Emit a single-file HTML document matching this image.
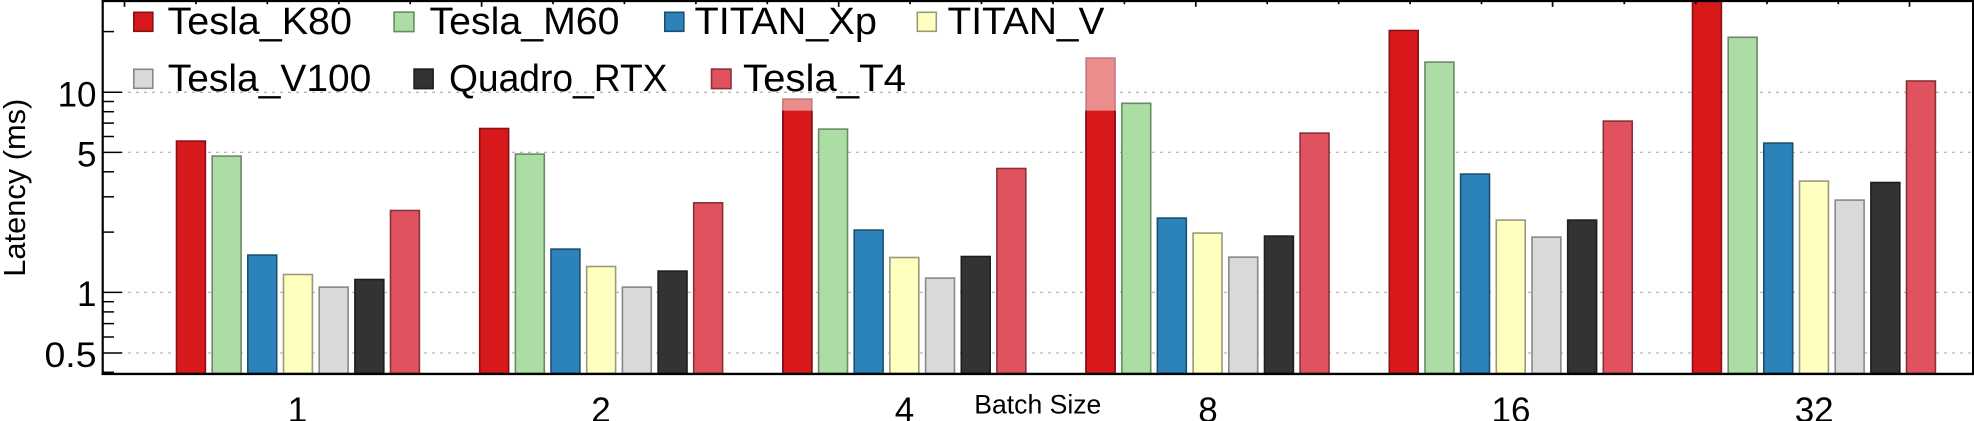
<!DOCTYPE html>
<html><head><meta charset="utf-8">
<style>
html,body{margin:0;padding:0;background:#fff;}
svg{display:block;}
text{font-family:"Liberation Sans",Arial,sans-serif;fill:#000;}
</style></head>
<body>
<svg width="1974" height="421" viewBox="0 0 1974 421" xmlns="http://www.w3.org/2000/svg">
<rect x="0" y="0" width="1974" height="421" fill="#fff"/>
<defs><clipPath id="pa"><rect x="103" y="1.5" width="1870" height="372"/></clipPath></defs>

<!-- gridlines -->
<g stroke="#b8b8b8" stroke-width="1.3" stroke-dasharray="3 5">
<line x1="104" y1="92.3" x2="1972" y2="92.3"/>
<line x1="104" y1="152.4" x2="1972" y2="152.4"/>
<line x1="104" y1="292.4" x2="1972" y2="292.4"/>
<line x1="104" y1="353" x2="1972" y2="353"/>
</g>

<g clip-path="url(#pa)" stroke-width="1.6">
<!-- Tesla_K80 -->
<g fill="#d7191c" stroke="#8a1014">
<rect x="176.5" y="141.1" width="28.9" height="232.4"/>
<rect x="479.7" y="128.5" width="28.9" height="245"/>
<rect x="1389.3" y="30.5" width="28.9" height="343"/>
<rect x="1692.5" y="-5" width="28.9" height="378.5"/>
</g>
<!-- K80 with translucent extension -->
<g fill="#eb8c8d" stroke="#c27b7d">
<rect x="782.9" y="99.1" width="28.9" height="274.4"/>
<rect x="1086.1" y="58.1" width="28.9" height="315.4"/>
</g>
<g fill="#d7191c" stroke="none">
<rect x="782.1" y="110.7" width="30.5" height="263"/>
<rect x="1085.3" y="110.7" width="30.5" height="263"/>
</g>
<g stroke="#7a0e12" stroke-width="1.6">
<line x1="782.9" y1="110.7" x2="782.9" y2="373.5"/>
<line x1="811.8" y1="110.7" x2="811.8" y2="373.5"/>
<line x1="1086.1" y1="110.7" x2="1086.1" y2="373.5"/>
<line x1="1115" y1="110.7" x2="1115" y2="373.5"/>
</g>
<!-- Tesla_M60 -->
<g fill="#abdda4" stroke="#6b8a66">
<rect x="212.2" y="156.1" width="28.9" height="217.4"/>
<rect x="515.4" y="154.1" width="28.9" height="219.4"/>
<rect x="818.6" y="129.1" width="28.9" height="244.4"/>
<rect x="1121.8" y="103.3" width="28.9" height="270.2"/>
<rect x="1425.0" y="62.1" width="28.9" height="311.4"/>
<rect x="1728.2" y="37.3" width="28.9" height="336.2"/>
</g>
<!-- TITAN_Xp -->
<g fill="#2b83ba" stroke="#1b4f70">
<rect x="247.8" y="255.1" width="28.9" height="118.4"/>
<rect x="551.0" y="249.1" width="28.9" height="124.4"/>
<rect x="854.2" y="230.1" width="28.9" height="143.4"/>
<rect x="1157.4" y="218.1" width="28.9" height="155.4"/>
<rect x="1460.6" y="174.1" width="28.9" height="199.4"/>
<rect x="1763.8" y="143.1" width="28.9" height="230.4"/>
</g>
<!-- TITAN_V -->
<g fill="#ffffbf" stroke="#9a9a7a">
<rect x="283.5" y="274.5" width="28.9" height="99"/>
<rect x="586.7" y="266.5" width="28.9" height="107"/>
<rect x="889.9" y="257.5" width="28.9" height="116"/>
<rect x="1193.1" y="233.1" width="28.9" height="140.4"/>
<rect x="1496.3" y="220.1" width="28.9" height="153.4"/>
<rect x="1799.5" y="181.1" width="28.9" height="192.4"/>
</g>
<!-- Tesla_V100 -->
<g fill="#d9d9d9" stroke="#888888">
<rect x="319.2" y="287.1" width="28.9" height="86.4"/>
<rect x="622.4" y="287.1" width="28.9" height="86.4"/>
<rect x="925.6" y="278.1" width="28.9" height="95.4"/>
<rect x="1228.8" y="257.1" width="28.9" height="116.4"/>
<rect x="1532.0" y="237.1" width="28.9" height="136.4"/>
<rect x="1835.2" y="200.1" width="28.9" height="173.4"/>
</g>
<!-- Quadro_RTX -->
<g fill="#333333" stroke="#1e1e1e">
<rect x="354.9" y="279.5" width="28.9" height="94"/>
<rect x="658.1" y="271.1" width="28.9" height="102.4"/>
<rect x="961.3" y="256.5" width="28.9" height="117"/>
<rect x="1264.5" y="236.1" width="28.9" height="137.4"/>
<rect x="1567.7" y="220.1" width="28.9" height="153.4"/>
<rect x="1870.9" y="182.5" width="28.9" height="191"/>
</g>
<!-- Tesla_T4 -->
<g fill="#e0525e" stroke="#8b3038">
<rect x="390.5" y="210.5" width="28.9" height="163"/>
<rect x="693.7" y="202.8" width="28.9" height="170.7"/>
<rect x="996.9" y="168.5" width="28.9" height="205"/>
<rect x="1300.1" y="133.1" width="28.9" height="240.4"/>
<rect x="1603.3" y="121.1" width="28.9" height="252.4"/>
<rect x="1906.5" y="81" width="28.9" height="292.5"/>
</g>
</g>

<!-- frame -->
<g stroke="#000" fill="none">
<line x1="102.7" y1="0" x2="102.7" y2="375" stroke-width="2.2"/>
<line x1="101.6" y1="373.9" x2="1974" y2="373.9" stroke-width="2.4"/>
<line x1="101.6" y1="1" x2="1974" y2="1" stroke-width="2.2"/>
<line x1="1973" y1="0" x2="1973" y2="375" stroke-width="2"/>
</g>

<!-- left ticks -->
<g stroke="#000" stroke-width="1.5">
<line x1="103.5" y1="92.3" x2="122" y2="92.3"/>
<line x1="103.5" y1="152.4" x2="122" y2="152.4"/>
<line x1="103.5" y1="292.4" x2="122" y2="292.4"/>
<line x1="103.5" y1="353" x2="122" y2="353"/>
<line x1="103.5" y1="31.6" x2="114" y2="31.6"/>
<line x1="103.5" y1="101.5" x2="114" y2="101.5"/>
<line x1="103.5" y1="111.7" x2="114" y2="111.7"/>
<line x1="103.5" y1="123.1" x2="114" y2="123.1"/>
<line x1="103.5" y1="136.5" x2="114" y2="136.5"/>
<line x1="103.5" y1="171.8" x2="114" y2="171.8"/>
<line x1="103.5" y1="196.8" x2="114" y2="196.8"/>
<line x1="103.5" y1="232.1" x2="114" y2="232.1"/>
<line x1="103.5" y1="301.7" x2="114" y2="301.7"/>
<line x1="103.5" y1="311.9" x2="114" y2="311.9"/>
<line x1="103.5" y1="323.6" x2="114" y2="323.6"/>
<line x1="103.5" y1="337.0" x2="114" y2="337.0"/>
<line x1="103.5" y1="372.3" x2="114" y2="372.3"/>
</g>

<!-- top ticks -->
<g stroke="#000" stroke-width="1.7">
<line x1="124.5" y1="1" x2="124.5" y2="6.8"/>
<line x1="195.9" y1="1" x2="195.9" y2="4.2"/>
<line x1="267.3" y1="1" x2="267.3" y2="4.2"/>
<line x1="338.8" y1="1" x2="338.8" y2="4.2"/>
<line x1="410.2" y1="1" x2="410.2" y2="4.2"/>
<line x1="481.6" y1="1" x2="481.6" y2="6.8"/>
<line x1="553.0" y1="1" x2="553.0" y2="4.2"/>
<line x1="624.4" y1="1" x2="624.4" y2="4.2"/>
<line x1="695.9" y1="1" x2="695.9" y2="4.2"/>
<line x1="767.3" y1="1" x2="767.3" y2="4.2"/>
<line x1="838.7" y1="1" x2="838.7" y2="6.8"/>
<line x1="910.1" y1="1" x2="910.1" y2="4.2"/>
<line x1="981.5" y1="1" x2="981.5" y2="4.2"/>
<line x1="1053.0" y1="1" x2="1053.0" y2="4.2"/>
<line x1="1124.4" y1="1" x2="1124.4" y2="4.2"/>
<line x1="1195.8" y1="1" x2="1195.8" y2="6.8"/>
<line x1="1267.2" y1="1" x2="1267.2" y2="4.2"/>
<line x1="1338.6" y1="1" x2="1338.6" y2="4.2"/>
<line x1="1410.1" y1="1" x2="1410.1" y2="4.2"/>
<line x1="1481.5" y1="1" x2="1481.5" y2="4.2"/>
<line x1="1552.6" y1="1" x2="1552.6" y2="6.8"/>
<line x1="1624.3" y1="1" x2="1624.3" y2="4.2"/>
<line x1="1695.7" y1="1" x2="1695.7" y2="4.2"/>
<line x1="1767.0" y1="1" x2="1767.0" y2="4.2"/>
<line x1="1838.3" y1="1" x2="1838.3" y2="4.2"/>
<line x1="1909.5" y1="1" x2="1909.5" y2="6.8"/>
</g>

<!-- y tick labels -->
<g font-size="35" text-anchor="end">
<text x="96.5" y="106.5">10</text>
<text x="96.5" y="166.5">5</text>
<text x="96.5" y="306.2">1</text>
<text x="96.5" y="367.2" textLength="52" lengthAdjust="spacingAndGlyphs">0.5</text>
</g>

<!-- y axis label -->
<text transform="translate(25,276.7) rotate(-90)" font-size="31" textLength="178" lengthAdjust="spacingAndGlyphs">Latency (ms)</text>

<!-- x tick labels -->
<g font-size="35" text-anchor="middle">
<text x="297.5" y="422">1</text>
<text x="601" y="422">2</text>
<text x="904.5" y="422">4</text>
<text x="1208" y="422">8</text>
<text x="1511" y="422">16</text>
<text x="1814.2" y="422">32</text>
</g>
<text x="974.3" y="413.3" font-size="26.5" textLength="127" lengthAdjust="spacingAndGlyphs">Batch Size</text>

<!-- legend -->
<g stroke-width="1.6">
<rect x="133.8" y="12.3" width="19" height="19" fill="#d7191c" stroke="#8a1014"/>
<rect x="394.1" y="12.1" width="19.8" height="19.5" fill="#abdda4" stroke="#6b8a66"/>
<rect x="664.8" y="12.3" width="19" height="19" fill="#2b83ba" stroke="#1b4f70"/>
<rect x="917.3" y="12.3" width="19" height="19" fill="#ffffbf" stroke="#9a9a7a"/>
<rect x="133.8" y="69.3" width="19" height="19" fill="#d9d9d9" stroke="#888888"/>
<rect x="414.1" y="69.1" width="19" height="19.5" fill="#333333" stroke="#1e1e1e"/>
<rect x="711.5" y="69.1" width="19.5" height="19.5" fill="#e0525e" stroke="#8b3038"/>
</g>
<g font-size="38">
<text x="167.5" y="34" textLength="184.5" lengthAdjust="spacingAndGlyphs">Tesla_K80</text>
<text x="429.5" y="34" textLength="190" lengthAdjust="spacingAndGlyphs">Tesla_M60</text>
<text x="694.5" y="34" textLength="182.5" lengthAdjust="spacingAndGlyphs">TITAN_Xp</text>
<text x="947.5" y="34" textLength="157" lengthAdjust="spacingAndGlyphs">TITAN_V</text>
<text x="167.8" y="91" textLength="203.5" lengthAdjust="spacingAndGlyphs">Tesla_V100</text>
<text x="449" y="91" textLength="218.5" lengthAdjust="spacingAndGlyphs">Quadro_RTX</text>
<text x="743" y="91" textLength="163" lengthAdjust="spacingAndGlyphs">Tesla_T4</text>
</g>
</svg>
</body></html>
